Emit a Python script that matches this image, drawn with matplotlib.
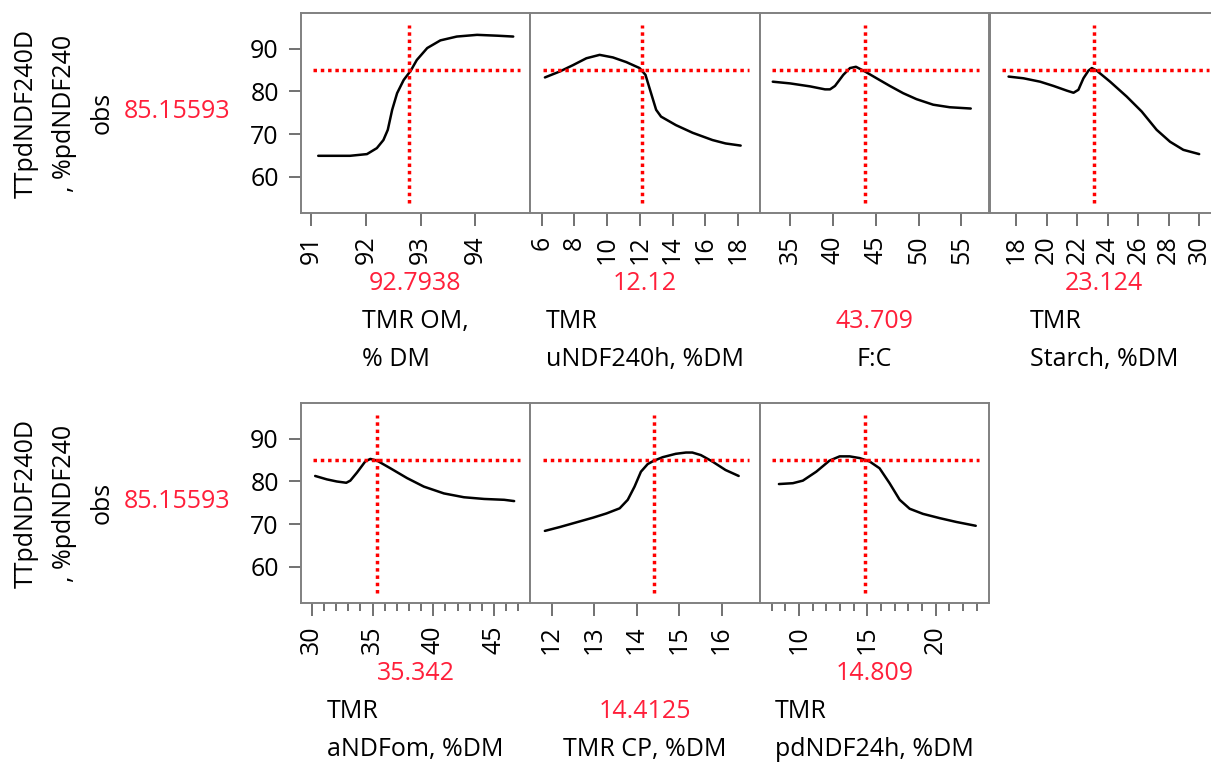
import matplotlib
matplotlib.use('Agg')
import matplotlib.pyplot as plt

plt.rcParams['font.family'] = ['Open Sans', 'DejaVu Sans']
plt.rcParams['font.size'] = 18

# response (y) shared by every profile
y_label_lines = ["TTpdNDF240D", ", %pdNDF240", "obs"]
y_pred = 85.15593
y_pred_txt = "85.15593"
y_ticks = [60, 70, 80, 90]

# TMR OM, % DM
om_x = [91.13, 91.71, 92.02, 92.20, 92.32, 92.40, 92.48, 92.57, 92.69, 92.82,
        92.93, 93.12, 93.36, 93.66, 94.03, 94.40, 94.69]
om_y = [64.9, 64.9, 65.3, 66.7, 68.6, 71.0, 75.7, 79.6, 82.7, 84.9,
        87.4, 90.2, 92.0, 92.9, 93.3, 93.1, 92.9]
om_cur, om_txt = 92.7938, "92.7938"
om_ticks = [91, 92, 93, 94]

# TMR uNDF240h, %DM
undf_x = [6.20, 7.11, 7.92, 8.73, 9.54, 10.35, 11.17, 11.98, 12.34, 12.68,
          12.99, 13.29, 14.2, 15.22, 16.43, 17.23, 18.15]
undf_y = [83.3, 84.7, 86.2, 87.8, 88.6, 88.0, 86.9, 85.5, 83.9, 79.6,
          75.7, 74.1, 72.1, 70.3, 68.6, 67.8, 67.3]
undf_cur, undf_txt = 12.12, "12.12"
undf_ticks = [6, 8, 10, 12, 14, 16, 18]

# F:C
fc_x = [32.98, 35.0, 37.33, 39.08, 39.66, 40.24, 41.21, 41.99, 42.69, 43.74,
        45.1, 46.65, 48.2, 49.76, 51.7, 53.64, 56.09]
fc_y = [82.3, 81.9, 81.2, 80.5, 80.5, 81.3, 83.9, 85.5, 85.8, 84.7,
        83.1, 81.3, 79.6, 78.2, 76.9, 76.3, 76.0]
fc_cur, fc_txt = 43.709, "43.709"
fc_ticks = [35, 40, 45, 50, 55]

# TMR Starch, %DM
st_x = [17.5, 18.48, 19.57, 20.45, 21.32, 21.76, 22.08, 22.41, 22.74, 22.96,
        23.28, 24.16, 25.25, 26.23, 27.21, 28.09, 28.96, 30.0]
st_y = [83.5, 83.1, 82.3, 81.3, 80.2, 79.7, 80.4, 83.1, 84.9, 85.5,
        84.9, 82.3, 78.8, 75.3, 71.0, 68.2, 66.3, 65.3]
st_cur, st_txt = 23.124, "23.124"
st_ticks = [18, 20, 22, 24, 26, 28, 30]

# TMR aNDFom, %DM
andf_x = [30.28, 31.24, 32.06, 32.84, 33.17, 33.72, 34.4, 34.82, 35.37, 36.47,
          37.84, 39.22, 40.87, 42.52, 44.18, 45.83, 46.65]
andf_y = [81.3, 80.5, 80.0, 79.7, 80.2, 82.1, 84.7, 85.3, 84.9, 83.1,
          80.8, 78.8, 77.2, 76.3, 75.9, 75.7, 75.4]
andf_cur, andf_txt = 35.342, "35.342"
andf_ticks = [30, 35, 40, 45]
andf_minor = [31, 32, 33, 34, 36, 37, 38, 39, 41, 42, 43, 44, 46, 47]

# TMR CP, %DM
cp_x = [11.84, 12.19, 12.58, 12.97, 13.29, 13.6, 13.79, 13.95, 14.1, 14.26,
        14.39, 14.61, 14.92, 15.16, 15.31, 15.51, 15.78, 16.09, 16.4]
cp_y = [68.4, 69.3, 70.4, 71.5, 72.5, 73.7, 75.7, 78.8, 82.3, 84.1,
        84.8, 85.7, 86.5, 86.8, 86.8, 86.2, 84.7, 82.7, 81.3]
cp_cur, cp_txt = 14.4125, "14.4125"
cp_ticks = [12, 13, 14, 15, 16]

# TMR pdNDF24h, %DM
pd_x = [8.54, 9.56, 10.29, 11.27, 12.24, 12.98, 13.71, 14.44, 15.17, 15.9,
        16.63, 17.37, 18.1, 19.07, 20.29, 21.51, 22.93]
pd_y = [79.4, 79.6, 80.2, 82.3, 84.9, 85.9, 85.9, 85.5, 84.7, 83.1,
        79.6, 75.7, 73.6, 72.4, 71.4, 70.5, 69.6]
pd_cur, pd_txt = 14.809, "14.809"
pd_ticks = [10, 15, 20]
pd_minor = [8, 9, 11, 12, 13, 14, 16, 17, 18, 19, 21, 22, 23]

# row, col, x, y, current x, its text, label lines, ticks, minor ticks, x range
panels = [
    (0, 0, om_x, om_y, om_cur, om_txt, ["TMR OM,", "% DM"], om_ticks, [], (90.81, 95.0)),
    (0, 1, undf_x, undf_y, undf_cur, undf_txt, ["TMR", "uNDF240h, %DM"], undf_ticks, [], (5.29, 19.3)),
    (0, 2, fc_x, fc_y, fc_cur, fc_txt, ["F:C"], fc_ticks, [], (31.43, 58.22)),
    (0, 3, st_x, st_y, st_cur, st_txt, ["TMR", "Starch, %DM"], st_ticks, [], (16.25, 31.3)),
    (1, 0, andf_x, andf_y, andf_cur, andf_txt, ["TMR", "aNDFom, %DM"], andf_ticks, andf_minor, (29.09, 47.97)),
    (1, 1, cp_x, cp_y, cp_cur, cp_txt, ["TMR CP, %DM"], cp_ticks, [], (11.49, 16.89)),
    (1, 2, pd_x, pd_y, pd_cur, pd_txt, ["TMR", "pdNDF24h, %DM"], pd_ticks, pd_minor, (7.12, 23.9)),
]

W, H = 1211, 763
fig = plt.figure(figsize=(W / 100, H / 100), dpi=100)
renderer = fig.canvas.get_renderer()

RED = '#ff1f3a'
FRAME = '#808080'
TICK = '#666666'
col_left = [300.7, 530.0, 759.5, 989.5]
pw, ph = 229.5, 200.6
row_top = [12.7, 402.7]
row_off = [0, 390]
baselines = [366, 328, 290]  # slots counted from the bottom


def fx(px):
    return px / W


def fy(py):
    return 1 - py / H


for row, col, xs, ys, cur, cur_txt, lines, ticks, minor, xlim in panels:
    left, top = col_left[col], row_top[row]
    ax = fig.add_axes([fx(left), fy(top + ph), pw / W, ph / H])
    ax.plot(xs, ys, color='black', lw=1.8, solid_capstyle='round', solid_joinstyle='round')
    ax.axhline(y_pred, xmin=0.055, xmax=0.955, color='red', lw=2.5, ls=(0, (1, 1.1)))
    ax.axvline(cur, ymin=0.05, ymax=0.94, color='red', lw=2.5, ls=(0, (1, 1.1)))
    ax.set_xlim(*xlim)
    ax.set_ylim(51.4, 98.5)
    ax.set_xticks(ticks)
    ax.set_xticks(minor, minor=True)
    ax.tick_params(axis='x', which='major', direction='out', length=9.5, width=1.3,
                   color=TICK, pad=6.5, labelrotation=90, labelsize=18)
    ax.tick_params(axis='x', which='minor', direction='out', length=5.5, width=1.3,
                   color=TICK)
    if col == 0:
        ax.set_yticks(y_ticks)
        ax.tick_params(axis='y', direction='out', length=8.6, width=1.3,
                       color=TICK, pad=7.2, labelsize=18)
    else:
        ax.set_yticks([])
    for s in ax.spines.values():
        s.set_color(FRAME)
        s.set_linewidth(1.4)

    # current value + factor name under the panel, name lines left aligned as a block
    cx = left + pw / 2
    off = row_off[row]
    texts = []
    for i, ln in enumerate(lines):
        slot = len(lines) - 1 - i
        texts.append(fig.text(0, fy(baselines[slot] + off), ln, ha='left', va='baseline',
                              color='black', fontsize=18))
    wmax = max(t.get_window_extent(renderer).width for t in texts)
    for t in texts:
        t.set_x(fx(cx - wmax / 2))
    fig.text(fx(cx), fy(baselines[len(lines)] + off), cur_txt, ha='center', va='baseline',
             color=RED, fontsize=18)

# response label and predicted value on each row
for off in row_off:
    for i, ln in enumerate(y_label_lines):
        fig.text(fx(33 + 38 * i), fy(113 + off), ln, rotation=90, ha='center', va='baseline',
                 rotation_mode='anchor', color='black', fontsize=18)
    fig.text(fx(177), fy(112 + off), y_pred_txt, ha='center', va='center',
             color=RED, fontsize=18)

fig.savefig('out.png', dpi=100)
